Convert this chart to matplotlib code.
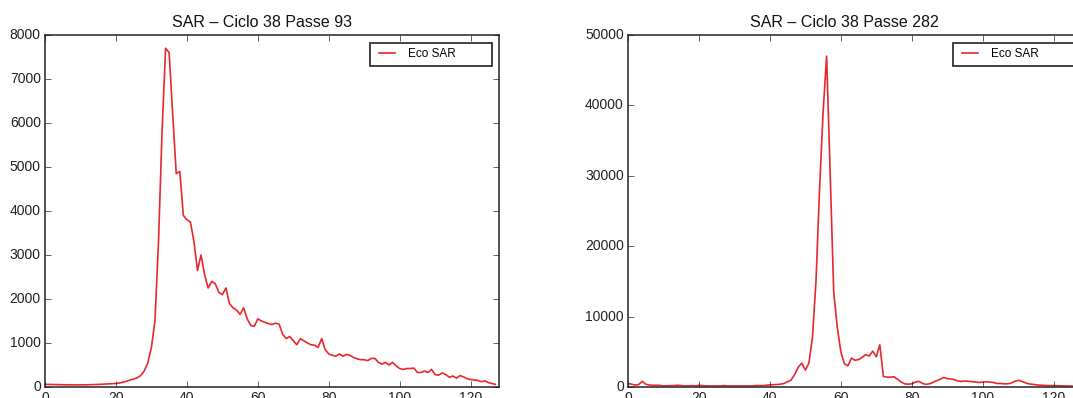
import matplotlib
matplotlib.use("Agg")
import matplotlib.pyplot as plt
import numpy as np

plt.style.use("classic")
plt.rcParams["font.family"] = ["Liberation Sans", "DejaVu Sans"]

# SAR echo waveforms, one value per range bin (0..127)
bins = list(range(128))

echo_pass_93 = [
    60, 58, 56, 55, 54, 52, 50, 50, 48, 48,
    47, 48, 50, 52, 55, 58, 62, 66, 70, 75,
    80, 90, 110, 130, 160, 180, 210, 260, 370, 550,
    900, 1500, 3300, 5800, 7700, 7600, 6200, 4850, 4900, 3900,
    3800, 3750, 3300, 2650, 3000, 2550, 2250, 2400, 2350, 2150,
    2100, 2250, 1900, 1800, 1750, 1650, 1800, 1550, 1400, 1380,
    1550, 1500, 1470, 1440, 1420, 1450, 1430, 1200, 1100, 1150,
    1050, 960, 1100, 1050, 1000, 960, 950, 900, 1100, 850,
    750, 720, 700, 750, 700, 740, 720, 670, 640, 620,
    620, 600, 650, 650, 560, 520, 560, 500, 560, 480,
    420, 400, 420, 420, 430, 330, 330, 360, 330, 400,
    280, 270, 320, 280, 220, 250, 200, 260, 230, 190,
    170, 160, 150, 120, 140, 100, 80, 60,
]

echo_pass_282 = [
    500, 400, 280, 350, 800, 400, 280, 250, 250, 230,
    150, 150, 200, 200, 250, 200, 150, 150, 200, 150,
    250, 200, 150, 150, 150, 150, 150, 200, 150, 150,
    150, 150, 150, 150, 150, 150, 200, 200, 200, 250,
    300, 320, 350, 400, 500, 750, 1000, 1800, 2800, 3400,
    2400, 3400, 7000, 15000, 28000, 39000, 47000, 30000, 13500, 8500,
    5000, 3300, 3000, 4100, 3800, 3900, 4200, 4600, 4400, 5100,
    4300, 6000, 1500, 1400, 1400, 1450, 1100, 700, 450, 400,
    450, 700, 800, 500, 380, 450, 650, 900, 1100, 1350,
    1200, 1150, 1050, 850, 800, 850, 800, 750, 700, 650,
    700, 750, 700, 650, 500, 500, 450, 450, 550, 800,
    950, 800, 600, 450, 380, 300, 250, 250, 200, 200,
    200, 180, 170, 150, 150, 120, 120, 100,
]

titles = ["SAR \u2013 Ciclo 38 Passe 93", "SAR \u2013 Ciclo 38 Passe 282"]
y_limits = [(0, 8000), (0, 50000)]
y_steps = [1000, 10000]
x_ticks = [0, 20, 40, 60, 80, 100, 120]

W, H = 1073, 398
fig = plt.figure(figsize=(W / 100, H / 100), dpi=100, facecolor="white")

axes_px = [(45, 35, 454, 352), (628, 35, 454, 352)]
series = [echo_pass_93, echo_pass_282]

for (x0, y0, w, h), ys, title, ylim, ystep in zip(axes_px, series, titles, y_limits, y_steps):
    ax = fig.add_axes([x0 / W, (H - y0 - h) / H, w / W, h / H])
    ax.set_facecolor("white")
    ax.plot(bins, ys, color="#e8282e", lw=1.2, label="Eco SAR")
    ax.set_xlim(0, 128)
    ax.set_ylim(*ylim)
    ax.set_xticks(x_ticks)
    ax.set_yticks(np.arange(ylim[0], ylim[1] + 1, ystep))
    ax.tick_params(axis="both", which="major", direction="in", length=4,
                   labelsize=10, pad=3, colors="#222222", top=True, right=True)
    for sp in ax.spines.values():
        sp.set_color("#333333")
        sp.set_linewidth(1.2)
    ax.set_title(title, fontsize=11.5, x=0.477, pad=6, color="#111111")
    leg = ax.legend(loc="upper left", bbox_to_anchor=(0.716, 0.912, 0.269, 0.065),
                    mode="expand", borderaxespad=0, fontsize=8.5,
                    handlelength=2.0, handletextpad=0.8, borderpad=0.45,
                    fancybox=False, frameon=True)
    frame = leg.get_frame()
    frame.set_edgecolor("#333333")
    frame.set_linewidth(1.3)

fig.savefig("out.png", dpi=100, facecolor="white")
